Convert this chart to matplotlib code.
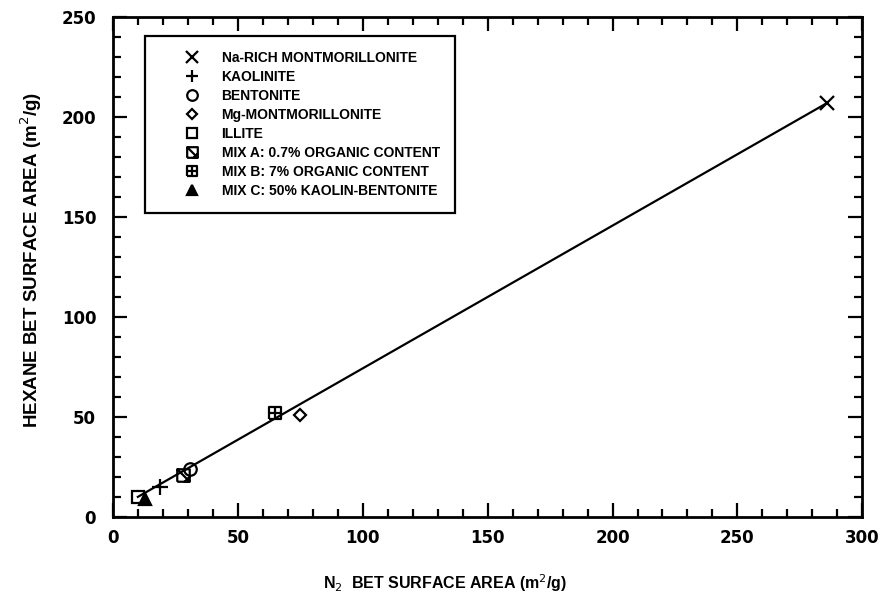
import matplotlib
matplotlib.use("Agg")
import matplotlib.pyplot as plt
from matplotlib.legend_handler import HandlerLine2D
from matplotlib.lines import Line2D
from matplotlib.path import Path
from matplotlib.ticker import MultipleLocator

plt.rcParams['font.family'] = ['Liberation Sans', 'DejaVu Sans']

# ── data: N2 BET vs hexane BET surface area (m2/g) ──────────────────────
LABELS = [
    "Na-RICH MONTMORILLONITE",
    "KAOLINITE",
    "BENTONITE",
    "Mg-MONTMORILLONITE",
    "ILLITE",
    "MIX A: 0.7% ORGANIC CONTENT",
    "MIX B: 7% ORGANIC CONTENT",
    "MIX C: 50% KAOLIN-BENTONITE",
]
N2_BET     = [286, 19, 31, 75, 10, 28, 65, 13]
HEXANE_BET = [207, 15, 24, 51, 10, 21, 52, 9]

# fitted line end points
LINE_X = [10, 286]
LINE_Y = [10, 207]

# ── custom markers ──────────────────────────────────────────────────────
M, L = Path.MOVETO, Path.LINETO
sq = [(-1, -1), (1, -1), (1, 1), (-1, 1), (-1, -1)]
mix_a = Path(sq + [(-1, 1), (1, -1), (1, -1), (0.2, -1), (1, -0.2)],
             [M, L, L, L, L, M, L, M, L, L])
mix_b = Path(sq + [(-1, 0), (1, 0), (0, -1), (0, 1)],
             [M, L, L, L, L, M, L, M, L])

MARKERS = ['x', '+', 'o', 'D', 's', mix_a, mix_b, '^']
SIZES   = [10, 11, 9, 6.5, 8, 9, 9, 8]
FILLED  = [False, False, False, False, False, False, False, True]


class MarkerRight(HandlerLine2D):
    """single legend marker pushed to the right end of the handle box"""
    def get_xdata(self, legend, xdescent, ydescent, width, height, fontsize):
        x = width - xdescent - 0.4 * fontsize
        return [x, x], [x]


fig = plt.figure(figsize=(8.89, 6.01), dpi=100)
ax = fig.add_axes([0.127, 0.140, 0.843, 0.832])

ax.plot(LINE_X, LINE_Y, color='black', lw=1.6, zorder=2)

handles = []
for lab, x, y, m, s, f in zip(LABELS, N2_BET, HEXANE_BET, MARKERS, SIZES, FILLED):
    kw = dict(marker=m, markersize=s, color='black', markeredgewidth=1.6,
              markerfacecolor='black' if f else 'none', linestyle='none')
    ax.plot([x], [y], zorder=3, **kw)
    handles.append(Line2D([], [], label=lab, **{**kw, 'markersize': s * 0.85}))

ax.set_xlim(0, 300)
ax.set_ylim(0, 250)
ax.xaxis.set_major_locator(MultipleLocator(50))
ax.xaxis.set_minor_locator(MultipleLocator(10))
ax.yaxis.set_major_locator(MultipleLocator(50))
ax.yaxis.set_minor_locator(MultipleLocator(10))
ax.tick_params(which='both', direction='in', top=True, right=True, width=1.6)
ax.tick_params(which='major', length=10)
ax.tick_params(which='minor', length=5.5)
ax.tick_params(axis='x', which='major', pad=9)
ax.tick_params(axis='y', which='major', pad=12)
for lbl in ax.get_xticklabels() + ax.get_yticklabels():
    lbl.set_family(['DejaVu Sans'])
    lbl.set_fontweight('bold')
    lbl.set_fontsize(12)
for sp in ax.spines.values():
    sp.set_linewidth(2.0)

ax.set_xlabel(r"N$_2$  BET SURFACE AREA (m$^2$/g)", fontsize=11.5, fontweight='bold')
ax.set_ylabel(r"HEXANE BET SURFACE AREA (m$^2$/g)", fontsize=13.5, fontweight='bold')
ax.xaxis.set_label_coords(0.443, -0.11)
ax.yaxis.set_label_coords(-0.092, 0.514)

leg = ax.legend(handles=handles, loc='upper left', bbox_to_anchor=(0.043, 0.962),
                handler_map={Line2D: MarkerRight()},
                frameon=True, fancybox=False, edgecolor='black',
                handlelength=2.7, handletextpad=1.7, labelspacing=0.36,
                borderpad=1.1, borderaxespad=0,
                prop={'weight': 'bold', 'size': 10})
leg.get_frame().set_linewidth(1.6)
leg.get_frame().set_alpha(1)

fig.savefig("out.png", dpi=100)
